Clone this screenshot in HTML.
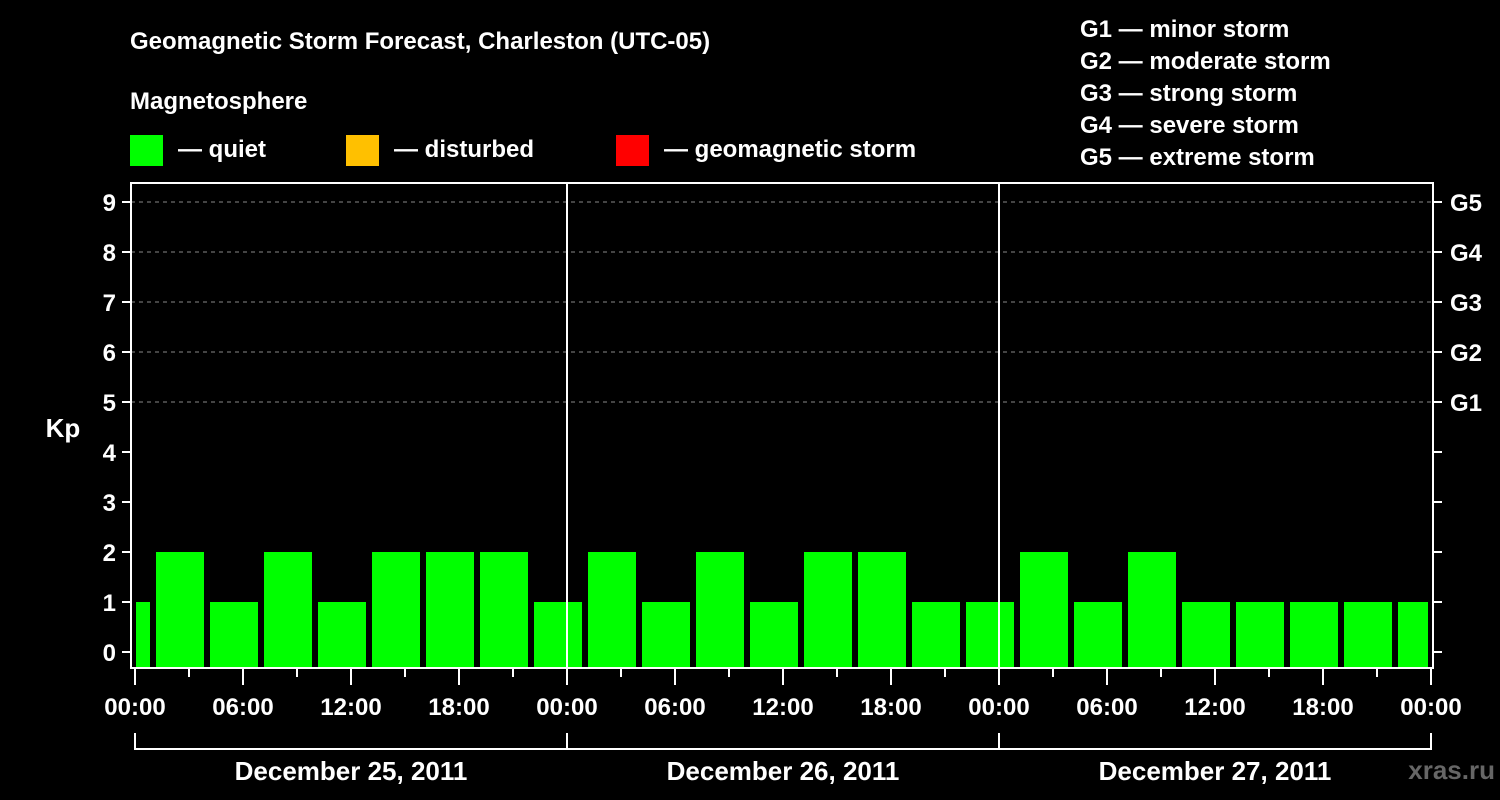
<!DOCTYPE html>
<html><head><meta charset="utf-8"><style>
html,body{margin:0;padding:0;background:#000;}
svg{display:block;font-family:"Liberation Sans",Arial,sans-serif;font-weight:bold;}
</style></head><body>
<svg id="chart" width="1500" height="800" viewBox="0 0 1500 800" xmlns="http://www.w3.org/2000/svg">
<rect width="1500" height="800" fill="#000"/>
<text x="130" y="49" fill="#fff" font-size="24">Geomagnetic Storm Forecast, Charleston (UTC-05)</text>
<text x="130" y="109" fill="#fff" font-size="24">Magnetosphere</text>
<g><rect x="130" y="135" width="33" height="31" fill="#00ff00"/><text x="178" y="157" fill="#fff" font-size="24">— quiet</text></g>
<g><rect x="346" y="135" width="33" height="31" fill="#ffc000"/><text x="394" y="157" fill="#fff" font-size="24">— disturbed</text></g>
<g><rect x="616" y="135" width="33" height="31" fill="#ff0000"/><text x="664" y="157" fill="#fff" font-size="24">— geomagnetic storm</text></g>
<g fill="#fff" font-size="24">
<text x="1080" y="37">G1 — minor storm</text>
<text x="1080" y="69">G2 — moderate storm</text>
<text x="1080" y="101">G3 — strong storm</text>
<text x="1080" y="133">G4 — severe storm</text>
<text x="1080" y="165">G5 — extreme storm</text>
</g>
<text x="63" y="437" fill="#fff" font-size="26" text-anchor="middle">Kp</text>
<text x="1495" y="779" fill="#666" font-size="26" text-anchor="end">xras.ru</text>
<g id="grid"></g><g id="bars"></g><g id="axes"></g>
</svg>
<script>
const kpTicks=[0,1,2,3,4,5,6,7,8,9];
const gLabels=["G1","G2","G3","G4","G5"];
const dayLabels=["December 25, 2011","December 26, 2011","December 27, 2011"];
const hourLabels=["00:00","06:00","12:00","18:00"];
// Kp values per 3-hour block; block start hour (local, from Dec 25 00:00) listed separately
const barStartHours=[-2,1,4,7,10,13,16,19,22,25,28,31,34,37,40,43,46,49,52,55,58,61,64,67,70];
const kpValues=[1,2,1,2,1,2,2,2,1,2,1,2,1,2,2,1,1,2,1,2,1,1,1,1,1];

const NS="http://www.w3.org/2000/svg";
const X0=135,PX_H=18,L=131,R=1433,T=183,B=668;
const xs=h=>X0+h*PX_H;
const ys=v=>652-v*50;
function mk(tag,attrs,parent,text){const e=document.createElementNS(NS,tag);for(const k in attrs)e.setAttribute(k,attrs[k]);if(text!==undefined)e.textContent=text;parent.appendChild(e);return e;}
const grid=document.getElementById('grid'),bars=document.getElementById('bars'),axes=document.getElementById('axes');
// gridlines for G levels
for(let i=0;i<gLabels.length;i++){const v=5+i;
 const g=mk('line',{x1:L,x2:R,y1:ys(v),y2:ys(v),stroke:'#888','stroke-width':1,'stroke-dasharray':'4,4'},grid);
 
 
 const t=mk('text',{x:1450,y:ys(v)+9,fill:'#fff','font-size':24},axes,gLabels[i]);
 
 
}
// bars
for(let i=0;i<kpValues.length;i++){
 let x1=Math.max(xs(barStartHours[i])+3,L+5),x2=Math.min(xs(barStartHours[i]+3)-3,R-5);
 const r=mk('rect',{x:x1,y:ys(kpValues[i]),width:x2-x1,height:B-ys(kpValues[i]),fill:'#00ff00'},bars);
 
 
}
// frame
const fr=mk('path',{d:`M${L},${B} L${L},${T} L${R},${T} L${R},${B} Z`,fill:'none',stroke:'#fff','stroke-width':2},axes);


// day separators
for(let d=1;d<dayLabels.length;d++){
 const l=mk('line',{x1:xs(24*d),x2:xs(24*d),y1:T,y2:B,stroke:'#fff','stroke-width':2},axes);
 
 
}
// y ticks
for(const v of kpTicks){
 mk('line',{x1:122,x2:L,y1:ys(v),y2:ys(v),stroke:'#fff','stroke-width':2},axes);
 mk('line',{x1:R,x2:1442,y1:ys(v),y2:ys(v),stroke:'#fff','stroke-width':2},axes);
 const t=mk('text',{x:116,y:ys(v)+9,fill:'#fff','font-size':24,'text-anchor':'end'},axes,String(v));
 
 
}
// x ticks
for(let h=0;h<=72;h+=3){
 const major=h%6===0;
 mk('line',{x1:xs(h),x2:xs(h),y1:B,y2:major?685:677,stroke:'#fff','stroke-width':2},axes);
 if(major){
  const lbl=hourLabels[(h/6)%4];
  const t=mk('text',{x:xs(h),y:715,fill:'#fff','font-size':24,'text-anchor':'middle'},axes,lbl);
  
  
 }
}
// day brackets
const br=mk('path',{d:`M${xs(0)},733 L${xs(0)},749 L${xs(72)},749 L${xs(72)},733 M${xs(24)},733 L${xs(24)},749 M${xs(48)},733 L${xs(48)},749`,fill:'none',stroke:'#fff','stroke-width':2},axes);


for(let d=0;d<dayLabels.length;d++){
 const t=mk('text',{x:xs(24*d+12),y:780,fill:'#fff','font-size':26,'text-anchor':'middle'},axes,dayLabels[d]);
 
 
}
</script>
</body></html>
